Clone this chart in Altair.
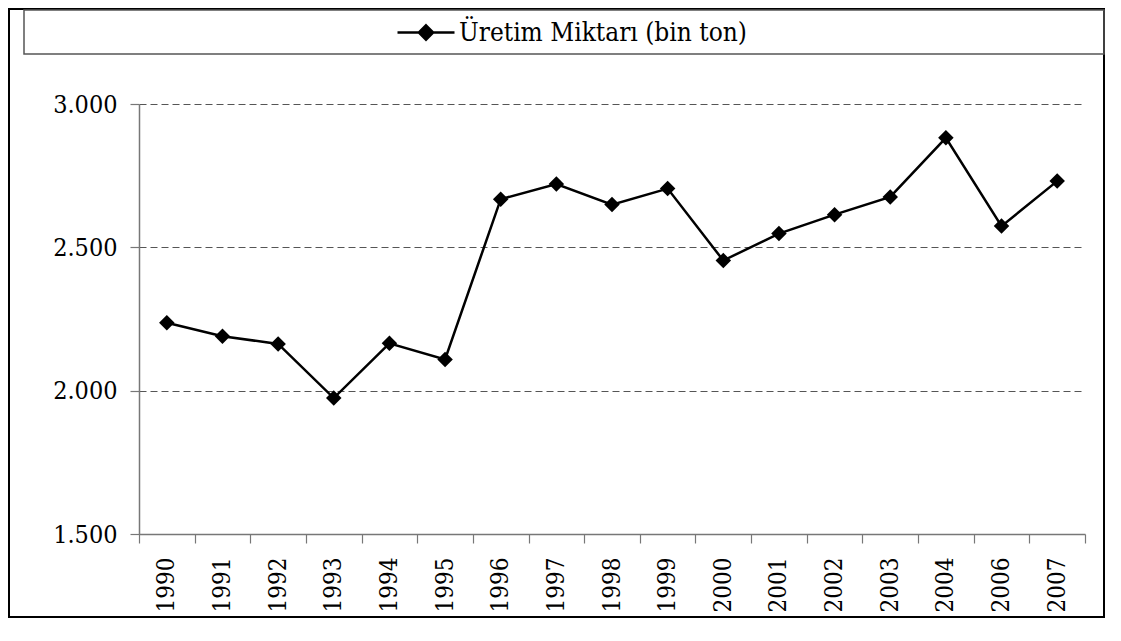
import altair as alt
import pandas as pd

years = ["1990", "1991", "1992", "1993", "1994", "1995", "1996", "1997", "1998",
         "1999", "2000", "2001", "2002", "2003", "2004", "2006", "2007"]
values = [2237, 2190, 2163, 1974, 2165, 2109, 2668, 2721, 2649, 2705,
          2454, 2548, 2614, 2676, 2882, 2574, 2731]
series = "Üretim Miktarı (bin ton)"
y_ticks = [1500, 2000, 2500, 3000]

df = pd.DataFrame({"Yıl": years, "Değer": values, "Seri": [series] * len(years)})

FONT = "DejaVu Serif Condensed, DejaVu Serif"
W, H = 946, 430

x_enc = alt.X("Yıl:O", sort=years, title=None,
              scale=alt.Scale(type="band", paddingInner=0, paddingOuter=0),
              axis=alt.Axis(labelAngle=270, tickBand="extent", tickSize=9,
                            tickColor="#777", domainColor="#777", domainWidth=1.5,
                            tickWidth=1.2, labelPadding=14, labelFont=FONT,
                            labelFontSize=24, labelColor="black", grid=False))
y_enc = alt.Y("Değer:Q", title=None,
              scale=alt.Scale(domain=[1500, 3000], nice=False, zero=False),
              axis=alt.Axis(values=y_ticks, tickSize=9, tickColor="#777",
                            domainColor="#777", domainWidth=1.5, tickWidth=1.2,
                            labelPadding=13, labelFont=FONT, labelFontSize=25,
                            labelColor="black",
                            labelExpr="replace(format(datum.value, ','), ',', '.')",
                            grid=True, gridDash=[7, 4], gridColor="#555",
                            gridWidth=1))

legend = alt.Legend(
    title=None, orient="none", legendX=257, legendY=-101.5, padding=0,
    symbolType="M-1,0L1,0M0,-0.25L0.25,0L0,0.25L-0.25,0Z", symbolSize=3249,
    symbolFillColor="black", symbolStrokeColor="black", symbolStrokeWidth=2.5,
    symbolOpacity=1,
    labelFont=FONT, labelFontSize=26, labelColor="black", labelOffset=3,
    labelLimit=600)

color = alt.Color("Seri:N", scale=alt.Scale(domain=[series], range=["black"]),
                  legend=legend)

base = alt.Chart(df)
line = base.mark_line(strokeWidth=2.5).encode(x=x_enc, y=y_enc, color=color)
pts = base.mark_point(shape="diamond", filled=True, size=240, opacity=1).encode(
    x=x_enc, y=y_enc, color=color)

box = alt.Data(values=[{}])
frame = alt.Chart(box).mark_rect(fill="transparent", stroke="black", strokeWidth=2).encode(
    x=alt.value(-130), x2=alt.value(965), y=alt.value(-95), y2=alt.value(513))
legbox = alt.Chart(box).mark_rect(fill="transparent", stroke="#555", strokeWidth=1.5).encode(
    x=alt.value(-115), x2=alt.value(965), y=alt.value(-94), y2=alt.value(-50))

chart = alt.layer(frame, legbox, line, pts).properties(
    width=W, height=H,
    autosize=alt.AutoSizeParams(type="none"),
    padding={"left": 131, "top": 96, "right": 28, "bottom": 92},
    background="white",
).configure_view(stroke=None)

chart.save("out.html", embed_options={"renderer": "svg", "actions": False})
